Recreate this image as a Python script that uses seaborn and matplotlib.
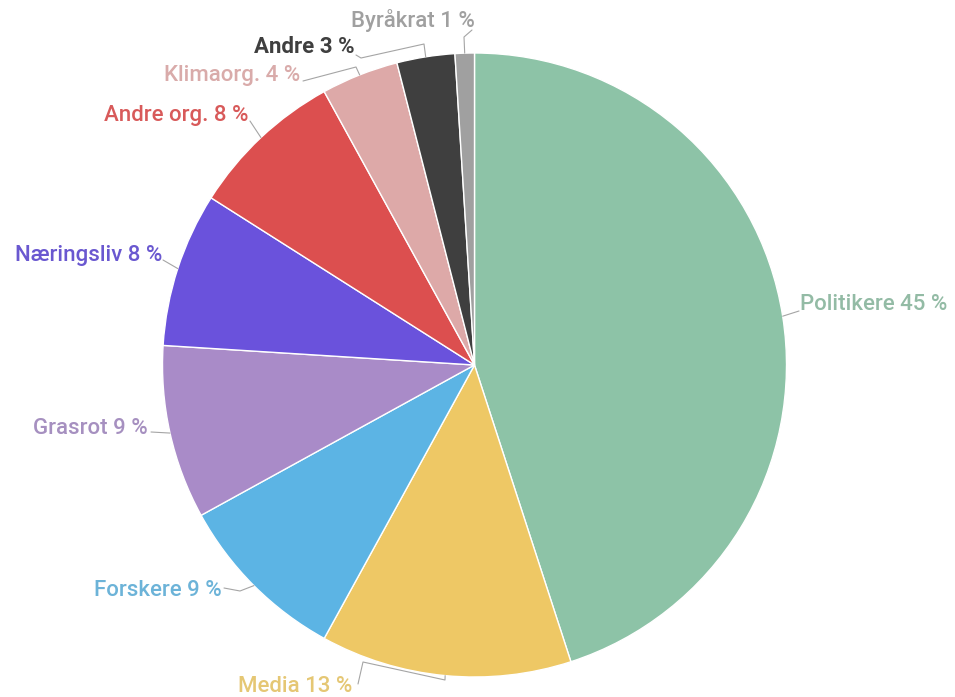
import numpy as np
import matplotlib
matplotlib.use("Agg")
import matplotlib.pyplot as plt
import seaborn as sns

# Shares by actor group (percent), drawn clockwise from 12 o'clock
categories = ["Politikere", "Media", "Forskere", "Grasrot", "Næringsliv",
              "Andre org.", "Klimaorg.", "Andre", "Byråkrat"]
shares = [45, 13, 9, 9, 8, 8, 4, 3, 1]
colors = ["#8DC3A7", "#EEC865", "#5CB4E4", "#A98BC8", "#6A52DC",
          "#DC4F4F", "#DDA9A8", "#3F3F3F", "#A0A0A0"]
label_colors = ["#93BBA5", "#E5C774", "#6CB3D8", "#A690C0", "#6A58D0",
                "#D85A5A", "#D9ABAA", "#3F3F3F", "#A0A0A0"]

W, H = 955, 697
CX, CY, R = 474.5, 365, 312

sns.set_theme(style="white")
plt.rcParams["font.family"] = ["Roboto", "DejaVu Sans"]

fig = plt.figure(figsize=(W / 100, H / 100), dpi=100)
ax = fig.add_axes([0, 0, 1, 1])


def px(x, y):
    """Pixel position (origin top-left) to data coordinates."""
    return x, H - y


wedges, _ = ax.pie(shares, colors=colors, startangle=90, counterclock=False,
                   center=px(CX, CY), radius=R, frame=True,
                   wedgeprops=dict(edgecolor="white", linewidth=1.0))
ax.set_xlim(0, W)
ax.set_ylim(0, H)
ax.set_aspect("equal")
ax.axis("off")

# Label placement: text anchor point, alignment, and leader-line bend points
layout = {
    "Politikere": ((800, 304), "left", [(799, 311)]),
    "Media": ((238, 686), "left", [(445, 680), (363, 662), (358, 684)]),
    "Forskere": ((222, 590), "right", [(240, 591), (224, 588)]),
    "Grasrot": ((148, 428), "right", [(151, 432)]),
    "Næringsliv": ((162, 255), "right", [(163, 260)]),
    "Andre org.": ((248, 116), "right", [(250, 121)]),
    "Klimaorg.": ((300, 75), "right", [(356, 67), (303, 81)]),
    "Andre": ((355, 47), "right", [(424, 44), (361, 58), (356, 55)]),
    "Byråkrat": ((475, 20), "right", [(464, 37), (472, 30)]),
}

for w, cat, share, lc in zip(wedges, categories, shares, label_colors):
    mid = np.deg2rad((w.theta1 + w.theta2) / 2)
    ax_, ay_ = CX + R * np.cos(mid), CY - R * np.sin(mid)
    (tx, ty), ha, bends = layout[cat]
    pts = [(ax_, ay_)] + bends
    xs, ys = zip(*[px(x, y) for x, y in pts])
    ax.plot(xs, ys, color="#a5a5a5", lw=0.8, solid_capstyle="round", zorder=1)
    weight = "bold" if cat == "Andre" else "medium"
    ax.text(*px(tx, ty), f"{cat} {share} %", ha=ha, va="center",
            fontsize=16, fontweight=weight, color=lc)

fig.savefig("out.png", dpi=100, facecolor="white")
